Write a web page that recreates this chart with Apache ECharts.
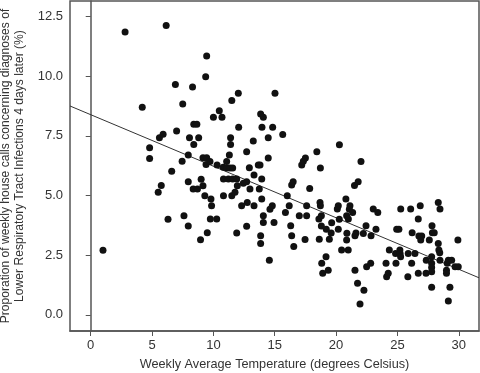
<!DOCTYPE html>
<html><head><meta charset="utf-8">
<script src="https://cdn.jsdelivr.net/npm/echarts@6/dist/echarts.min.js"></script>
<style>html,body{margin:0;padding:0;background:#fff}#c{width:480px;height:373px}</style>
</head><body><div id="c"></div>
<script>
const temps = [1.0,2.8,4.2,4.8,4.8,5.5,5.75,5.6,5.9,6.15,6.3,6.6,6.9,7.0,7.45,7.5,7.6,7.95,7.95,7.95,8.05,8.3,8.35,8.7,8.4,8.65,8.4,8.8,8.95,9.0,9.15,9.15,9.45,9.4,9.45,9.37,9.3,9.5,9.72,9.8,9.85,9.75,10.27,10.0,10.48,10.7,10.3,10.8,10.82,10.82,11.08,11.1,11.22,11.3,11.4,11.4,11.5,11.35,11.57,11.57,11.5,11.76,11.9,11.9,11.95,12.03,12.06,12.3,12.44,12.71,12.71,12.71,12.76,12.93,12.98,13.25,13.31,13.31,13.66,13.8,13.74,13.85,13.85,13.85,13.94,13.94,13.96,14.07,14.07,14.07,14.47,14.47,14.56,14.61,14.8,14.83,14.94,15.02,15.65,15.87,16.02,16.18,16.3,16.38,16.38,16.5,16.55,17.0,17.2,17.33,17.5,17.47,17.6,17.6,17.85,18.43,18.6,18.63,18.69,18.72,18.72,18.8,18.8,18.83,18.91,19.2,19.18,19.36,19.45,19.64,19.6,20.1,20.18,20.18,20.26,20.27,20.45,20.8,20.86,21.0,20.88,20.86,20.99,21.13,21.08,21.35,21.5,21.8,21.54,21.62,21.54,21.75,21.95,22.03,22.22,22.27,22.44,22.49,22.82,22.85,23.03,23.4,23.25,24.07,24.12,24.25,24.34,24.85,24.88,24.94,25.12,25.27,25.2,25.22,25.26,25.85,25.88,26.08,26.2,26.16,26.43,26.7,26.86,26.75,26.98,26.9,26.7,27.35,27.33,27.6,27.82,27.85,28.0,27.79,27.79,27.79,27.79,27.79,28.33,28.47,28.33,28.38,28.45,28.47,29.06,29.15,29.42,29.0,29.0,29.28,29.15,29.7,29.96,29.93];
const rates = [2.7,11.85,8.7,7.0,6.55,5.13,5.42,7.42,7.57,12.12,4.0,6.02,9.65,7.7,6.43,8.83,4.15,3.72,5.57,6.7,7.42,9.55,5.27,5.27,7.98,7.98,7.14,7.42,3.14,5.68,5.41,6.58,6.58,6.3,10.85,9.98,4.99,3.44,6.42,4.85,4.57,4.01,4.01,8.28,8.55,8.28,6.28,6.18,4.99,5.69,6.42,6.15,5.69,6.7,7.42,7.14,8.98,6.15,6.15,5.69,4.99,5.13,5.69,3.43,5.41,9.28,7.86,4.57,5.51,5.58,6.83,3.71,4.71,6.16,5.27,7.28,5.86,4.57,6.28,6.28,5.27,8.41,3.31,2.99,5.69,4.85,7.86,8.28,4.15,3.87,7.42,6.57,2.29,4.42,4.57,7.86,3.87,9.28,7.56,4.29,4.99,4.57,3.73,3.31,5.44,5.58,2.86,4.15,6.28,6.43,6.57,3.15,4.57,4.15,5.29,6.83,4.01,3.16,4.71,4.57,6.15,4.15,3.72,2.16,1.74,3.58,2.43,1.87,3.16,3.86,3.43,4.43,4.57,3.58,4.0,7.13,2.71,4.85,4.15,4.01,3.42,3.13,2.71,4.57,4.42,4.29,5.42,5.58,3.31,3.43,1.87,1.32,0.45,6.42,3.41,1.03,3.73,2.01,2.16,3.31,4.43,4.29,3.58,2.16,1.59,1.74,2.71,2.57,2.16,3.58,3.58,4.43,2.71,2.57,2.43,1.59,2.57,4.43,3.44,2.16,2.57,4.01,4.57,3.3,3.3,3.13,1.74,2.29,1.74,3.13,3.73,3.44,3.44,2.43,2.16,1.98,1.8,1.15,4.71,4.43,2.99,2.71,2.6,2.29,2.16,2.29,2.29,1.87,1.74,1.15,0.58,2.01,2.01,3.13];
const fitX = [-1.69, 31.65];
const fitY = [8.75, 1.55];
const xTicks = [0, 5, 10, 15, 20, 25, 30];
const yTicks = [0, 2.5, 5, 7.5, 10, 12.5];
const xTitle = 'Weekly Average Temperature (degrees Celsius)';
const yTitle = 'Proporation of weekly house calls concerning diagnoses of\nLower Respiratory Tract Infections 4 days later (%)';

const chart = echarts.init(document.getElementById('c'), null, {renderer: 'canvas'});
const font = 'Liberation Sans, Arial, sans-serif';
const axisCol = '#555';
chart.setOption({
  animation: false,
  grid: {left: 70, right: 1, top: 1, bottom: 42, show: true, borderColor: axisCol, borderWidth: 1.5,
         backgroundColor: 'transparent', outerBoundsMode: 'none', containLabel: false},
  xAxis: {
    type: 'value', min: -1.69, max: 31.65,
    name: xTitle, nameLocation: 'middle', nameGap: 27,
    nameTextStyle: {fontFamily: font, fontSize: 12.7, color: '#333'},
    axisLine: {onZero: false, lineStyle: {color: axisCol, width: 1.5}},
    axisTick: {customValues: xTicks, length: 5, lineStyle: {color: axisCol}},
    axisLabel: {customValues: xTicks, fontFamily: font, fontSize: 13, color: '#333', margin: 8},
    splitLine: {show: false}
  },
  yAxis: {
    type: 'value', min: -0.68, max: 13.15,
    name: yTitle, nameLocation: 'middle', nameGap: 40,
    nameTextStyle: {fontFamily: font, fontSize: 12.1, color: '#333', lineHeight: 14},
    axisLine: {lineStyle: {color: axisCol, width: 1.5}},
    axisTick: {customValues: yTicks, length: 5, lineStyle: {color: axisCol}},
    axisLabel: {customValues: yTicks, fontFamily: font, fontSize: 13, color: '#333', margin: 7,
      formatter: v => v.toFixed(1)},
    splitLine: {show: false}
  },
  series: [
    {type: 'scatter', data: temps.map((t, i) => [t, rates[i]]), symbolSize: 7,
     itemStyle: {color: '#111', opacity: 1}, z: 3},
    {type: 'line', data: fitX.map((x, i) => [x, fitY[i]]), symbol: 'none',
     lineStyle: {color: '#333', width: 1}, z: 2}
  ]
});
</script></body></html>
